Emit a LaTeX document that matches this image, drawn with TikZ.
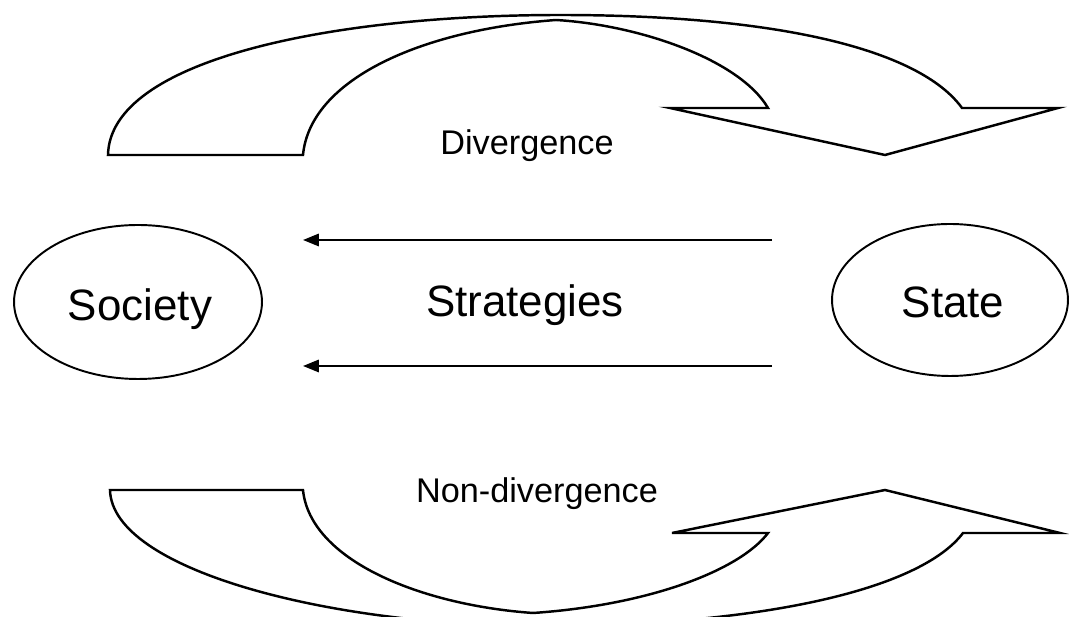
\documentclass[tikz,border=0pt]{standalone}
\usepackage{fontspec}
\setmainfont{Liberation Sans}
\usetikzlibrary{shapes.geometric,arrows.meta}
\begin{document}
\begin{tikzpicture}[x=0.02cm,y=-0.02cm,
  outline/.style={draw=black,line width=1.4pt,line join=miter},
  oval/.style={ellipse,draw=black,line width=1.1pt,inner sep=0pt},
  bigtxt/.style={font=\fontsize{25}{29}\selectfont,inner sep=0pt,anchor=base},
  smalltxt/.style={font=\fontsize{19.5}{23}\selectfont,inner sep=0pt,anchor=base},
  conn/.style={line width=1.2pt,-{Triangle[length=9pt,width=7pt]}}]
\useasboundingbox (0,0) rectangle (1069,617);
\clip (0,0) rectangle (1069,617);

% top curved arrow (Divergence)
\draw[outline] (108,155)
  .. controls (110,60) and (330,15) .. (560,15)
  .. controls (780,15) and (920,50) .. (962,108)
  -- (1058,108) -- (885,155) -- (670,108) -- (768,108)
  .. controls (740,60) and (640,25) .. (556,20)
  .. controls (420,30) and (310,80) .. (303,155)
  -- cycle;

% bottom curved arrow (Non-divergence)
\draw[outline] (110,490)
  .. controls (112,570) and (330,626) .. (540,626)
  .. controls (760,626) and (920,590) .. (963,533)
  -- (1060,533) -- (885,490) -- (672,533) -- (768,533)
  .. controls (740,570) and (650,605) .. (533,613)
  .. controls (420,605) and (310,560) .. (303,490)
  -- cycle;

% ellipses
\node[oval,minimum width=4.96cm,minimum height=3.08cm] (society) at (138,302) {};
\node[oval,minimum width=4.72cm,minimum height=3.04cm] (state) at (950,300) {};

% texts
\node[bigtxt] (societytxt) at (140,321) {Society};
\node[bigtxt] (statetxt) at (953,318) {State};
\node[bigtxt] (strategies) at (525,317) {Strategies};
\node[smalltxt] (divergence) at (527,155) {Divergence};
\node[smalltxt] (nondivergence) at (537,503) {Non-divergence};

% strategy arrows
\coordinate (a1s) at (772,240);
\coordinate (a1e) at (303,240);
\coordinate (a2s) at (772,366);
\coordinate (a2e) at (303,366);
\draw[conn] (a1s) -- (a1e);
\draw[conn] (a2s) -- (a2e);
\end{tikzpicture}
\end{document}
